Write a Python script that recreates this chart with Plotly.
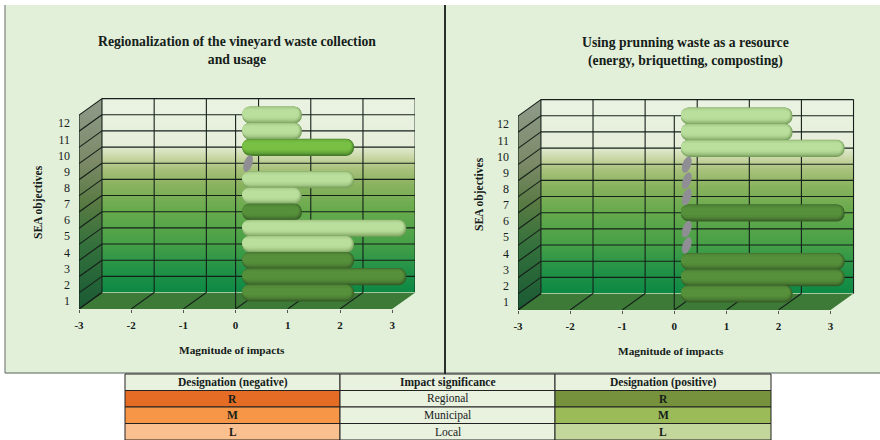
import numpy as np
import plotly.graph_objects as go

# ---------- data ----------
objectives = list(range(1, 13))
x_ticks = [-3, -2, -1, 0, 1, 2, 3]
x_tick_labels = ["-3", "-2", "-1", "0", "1", "2", "3"]
values_left = [2, 3, 2, 2, 3, 1, 1, 2, 0, 2, 1, 1]
signif_left = ["R", "R", "R", "L", "L", "R", "L", "L", "", "M", "L", "L"]
values_right = [2, 3, 3, 0, 0, 3, 0, 0, 0, 3, 2, 2]
signif_right = ["R", "R", "R", "", "", "R", "", "", "", "L", "L", "L"]
title_left = "<b>Regionalization of the vineyard waste collection<br>and usage</b>"
title_right = "<b>Using prunning waste as a resource<br>(energy, briquetting, composting)</b>"
x_title = "Magnitude of impacts"
y_title = "SEA objectives"
table_header = ["Designation (negative)", "Impact significance", "Designation (positive)"]
table_negative = ["R", "M", "L"]
table_significance = ["Regional", "Municipal", "Local"]
table_positive = ["R", "M", "L"]

# ---------- style ----------
W, H = 880, 440
SERIF = "Liberation Serif"
INK = "#15201a"
PANEL = "#e3f0d9"
BAR_SHADES = {  # shadow edge, highlight
    "R": ((54, 92, 40), (86, 144, 58)),
    "M": ((66, 122, 40), (120, 192, 68)),
    "L": ((120, 160, 92), (186, 222, 156)),
}
ZERO_COLOR = "#8e8e94"
WALL_SCALE = [[0, "#0c8944"], [0.12, "#229247"], [0.26, "#48a047"], [0.42, "#66aa4c"],
              [0.55, "#88b25d"], [0.64, "#a9c27c"], [0.70, "#cbd8a8"], [0.76, "#e6eeda"], [1, "#eaf2e2"]]
SIDE_SCALE = [[0, "#1a5a34"], [0.3, "#33703c"], [0.5, "#587a42"], [0.7, "#7c8a68"], [1, "#8f9b8a"]]
FLOOR = "#3d7a37"
DX, DY = 0.44, 1.02          # depth of the box, in axis units
BAR_SHIFT_X, BAR_SHIFT_Y = 0.27, 0.5
BAR_START = -0.14

panels = [
    dict(values=values_left, signif=signif_left, title=title_left, axes=("", "2"),
         left=79, unit=52.2, bottom=309, top=98, right=415, title_x=237, title_y=50,
         xt=(232, 350), yt=(38, 202)),
    dict(values=values_right, signif=signif_right, title=title_right, axes=("3", "4"),
         left=518, unit=52.1, bottom=310, top=98.7, right=855, title_x=685, title_y=51.5,
         xt=(671, 351), yt=(479, 194)),
]

fig = go.Figure()
layout = {}
annotations = []
shapes = []


def segs(pairs):
    xs, ys = [], []
    for (a, b), (c, d) in pairs:
        xs += [a, c, None]
        ys += [b, d, None]
    return xs, ys


def shade(sig, t):
    a, b = BAR_SHADES[sig]
    return "rgb(%d,%d,%d)" % tuple(round(a[i] + (b[i] - a[i]) * t) for i in range(3))


for p in panels:
    base, over = p["axes"]
    xb, yb = "x" + base, "y" + base
    xo, yo = "x" + over, "y" + over
    xr = [-3, -3 + (p["right"] - p["left"]) / p["unit"]]
    yr = [0.5, 0.5 + (p["bottom"] - p["top"]) / 16.16]
    dom_x = [p["left"] / W, p["right"] / W]
    dom_y = [1 - p["bottom"] / H, 1 - p["top"] / H]
    tick_font = dict(family=SERIF, size=11, color=INK, weight="bold")
    layout["xaxis" + base] = dict(domain=dom_x, range=xr, anchor=yb, tickmode="array", tickvals=x_ticks,
                                  ticktext=x_tick_labels, automargin=False,
                                  ticks="outside", ticklen=3, tickcolor="#555", showgrid=False, zeroline=False,
                                  showline=False, tickfont=tick_font, ticklabelstandoff=3)
    layout["yaxis" + base] = dict(domain=dom_y, range=yr, anchor=xb, tickmode="array", tickvals=objectives,
                                  automargin=False, ticks="", showgrid=False, zeroline=False, showline=False,
                                  tickfont=dict(family=SERIF, size=12, color=INK), ticklabelstandoff=8)
    layout["xaxis" + over] = dict(domain=dom_x, range=[xr[0] - BAR_SHIFT_X, xr[1] - BAR_SHIFT_X], anchor=yo,
                                  overlaying=xb, visible=False, automargin=False)
    layout["yaxis" + over] = dict(domain=dom_y, range=[yr[0] - BAR_SHIFT_Y, yr[1] - BAR_SHIFT_Y], anchor=xo,
                                  overlaying=yb, visible=False, automargin=False)

    bot, top = 0.5, 12.5
    lo, hi = x_ticks[0], x_ticks[-1]
    # back wall
    fig.add_trace(go.Scatter(x=[lo + DX, hi + DX, hi + DX, lo + DX, lo + DX],
                             y=[bot + DY, bot + DY, top + DY, top + DY, bot + DY],
                             xaxis=xb, yaxis=yb, mode="lines", line=dict(width=0), fill="toself",
                             fillgradient=dict(type="vertical", colorscale=WALL_SCALE, start=bot + DY, stop=top + DY),
                             hoverinfo="skip", showlegend=False, cliponaxis=False))
    # side wall
    fig.add_trace(go.Scatter(x=[lo, lo + DX, lo + DX, lo, lo], y=[bot, bot + DY, top + DY, top, bot],
                             xaxis=xb, yaxis=yb, mode="lines", line=dict(width=0), fill="toself",
                             fillgradient=dict(type="vertical", colorscale=SIDE_SCALE, start=bot, stop=top + DY),
                             hoverinfo="skip", showlegend=False, cliponaxis=False))
    # floor
    fig.add_trace(go.Scatter(x=[lo, hi, hi + DX, lo + DX, lo], y=[bot, bot, bot + DY, bot + DY, bot],
                             xaxis=xb, yaxis=yb, mode="lines", line=dict(width=0), fill="toself", fillcolor=FLOOR,
                             hoverinfo="skip", showlegend=False, cliponaxis=False))
    # light rim of the floor
    fig.add_trace(go.Scatter(x=[lo + DX, hi + DX], y=[bot + DY, bot + DY], xaxis=xb, yaxis=yb, mode="lines",
                             line=dict(width=1, color="#a5c8a0"), hoverinfo="skip", showlegend=False, cliponaxis=False))
    # grid
    levels = [bot + i for i in range(13)]
    pairs = []
    for k in levels[1:]:
        pairs.append(((lo + DX, k + DY), (hi + DX, k + DY)))
    for k in levels:
        pairs.append(((lo, k), (lo + DX, k + DY)))
    for t in x_ticks:
        pairs.append(((t + DX, bot + DY), (t + DX, top + DY)))
    for t in x_ticks[:-1]:
        pairs.append(((t, bot), (t + DX, bot + DY)))
    pairs.append(((lo, bot), (lo, top)))
    pairs.append(((0, bot), (0, top)))
    gx, gy = segs(pairs)
    fig.add_trace(go.Scatter(x=gx, y=gy, xaxis=xb, yaxis=yb, mode="lines", line=dict(width=1.1, color=INK),
                             hoverinfo="skip", showlegend=False, cliponaxis=False))

    # zero markers
    zeros = [o for o, v in zip(objectives, p["values"]) if v == 0]
    ex, ey = [], []
    th = np.linspace(0, 2 * np.pi, 37)
    for o in zeros:
        ey_local = 0.52 * np.sin(th)
        ex_local = -0.03 + 0.085 * np.cos(th) + 0.08 * ey_local
        ex += list(ex_local) + [None]
        ey += list(o + ey_local) + [None]
    if zeros:
        fig.add_trace(go.Scatter(x=ex, y=ey, xaxis=xo, yaxis=yo, mode="lines", line=dict(width=0), fill="toself",
                                 fillcolor=ZERO_COLOR, hoverinfo="skip", showlegend=False))

    # bars: shaded from a dark lower edge to a light upper centre
    ys = [o for o, v in zip(objectives, p["values"]) if v > 0]
    vs = [v for v in p["values"] if v > 0]
    sg = [s for s, v in zip(p["signif"], p["values"]) if v > 0]
    layers = [  # shade, thickness, upward shift, inset at tip, corner radius
        (0.0, 1.06, 0.00, 0.000, 8),
        (0.3, 0.98, 0.03, 0.012, 8),
        (0.55, 0.90, 0.06, 0.024, 7),
        (0.75, 0.80, 0.08, 0.036, 7),
        (0.9, 0.66, 0.09, 0.050, 6),
        (1.0, 0.46, 0.10, 0.065, 5),
    ]
    for t, width, up, inset, rad in layers:
        fig.add_trace(go.Bar(orientation="h", y=ys, x=[v - BAR_START - inset for v in vs], base=BAR_START,
                             width=width, offset=-width / 2 + up, xaxis=xo, yaxis=yo, showlegend=False,
                             hoverinfo="skip",
                             marker=dict(color=[shade(s, t) for s in sg], line=dict(width=0),
                                         cornerradius=rad)))

    annotations.append(dict(text=p["title"], x=p["title_x"] / W, y=1 - p["title_y"] / H, xref="paper", yref="paper",
                            showarrow=False, align="center", xanchor="center", yanchor="middle",
                            font=dict(family=SERIF, size=13.7, color=INK)))
    annotations.append(dict(text="<b>%s</b>" % x_title, x=p["xt"][0] / W, y=1 - p["xt"][1] / H, xref="paper",
                            yref="paper", showarrow=False, xanchor="center", yanchor="middle",
                            font=dict(family=SERIF, size=11.3, color=INK)))
    annotations.append(dict(text="<b>%s</b>" % y_title, x=p["yt"][0] / W, y=1 - p["yt"][1] / H, xref="paper",
                            yref="paper", showarrow=False, textangle=-90, xanchor="center", yanchor="middle",
                            font=dict(family=SERIF, size=11.5, color=INK)))


def paper_rect(x0, y0, x1, y1, fill, line="rgba(0,0,0,0)", lw=0):
    return dict(type="rect", xref="paper", yref="paper", x0=x0 / W, x1=x1 / W, y0=1 - y0 / H, y1=1 - y1 / H,
                fillcolor=fill, line=dict(color=line, width=lw), layer="below")


def paper_line(x0, y0, x1, y1, color, lw):
    return dict(type="line", xref="paper", yref="paper", x0=x0 / W, x1=x1 / W, y0=1 - y0 / H, y1=1 - y1 / H,
                line=dict(color=color, width=lw), layer="below")


# panels
shapes.append(paper_rect(5, 5, 880, 373, PANEL))
shapes.append(paper_line(5, 5, 5, 373, "#666a66", 1))
shapes.append(paper_line(5, 373, 880, 373, "#55605a", 1))
shapes.append(paper_line(445, 5, 445, 376, "#2a2f2c", 2))

# table
col_x = [125, 340, 555, 771]
row_y = [374, 390.5, 407, 423.5, 440]
HEAD_FILL = "#e9f1df"
neg_fill = ["#e46c25", "#f79646", "#fac090"]
pos_fill = ["#76923c", "#9bbb59", "#c3d69b"]
for c in range(3):
    shapes.append(paper_rect(col_x[c], row_y[0], col_x[c + 1], row_y[1], HEAD_FILL, "#222", 1))
    annotations.append(dict(text="<b>%s</b>" % table_header[c], x=(col_x[c] + col_x[c + 1]) / 2 / W,
                            y=1 - (row_y[0] + row_y[1]) / 2 / H, xref="paper", yref="paper", showarrow=False,
                            xanchor="center", yanchor="middle", font=dict(family=SERIF, size=11.5, color=INK)))
for r in range(3):
    fills = [neg_fill[r], HEAD_FILL, pos_fill[r]]
    texts = ["<b>%s</b>" % table_negative[r], table_significance[r], "<b>%s</b>" % table_positive[r]]
    for c in range(3):
        shapes.append(paper_rect(col_x[c], row_y[r + 1], col_x[c + 1], row_y[r + 2], fills[c], "#222", 1))
        annotations.append(dict(text=texts[c], x=(col_x[c] + col_x[c + 1]) / 2 / W,
                                y=1 - (row_y[r + 1] + row_y[r + 2]) / 2 / H, xref="paper", yref="paper",
                                showarrow=False, xanchor="center", yanchor="middle",
                                font=dict(family=SERIF, size=11.5, color=INK)))

fig.update_layout(width=W, height=H, margin=dict(l=0, r=0, t=0, b=0, pad=0, autoexpand=False), paper_bgcolor="white",
                  plot_bgcolor="rgba(0,0,0,0)", barmode="overlay", showlegend=False, shapes=shapes,
                  annotations=annotations, **layout)
fig.write_html("out.html", post_script="document.body.style.margin='0';", config={"displayModeBar": False})
